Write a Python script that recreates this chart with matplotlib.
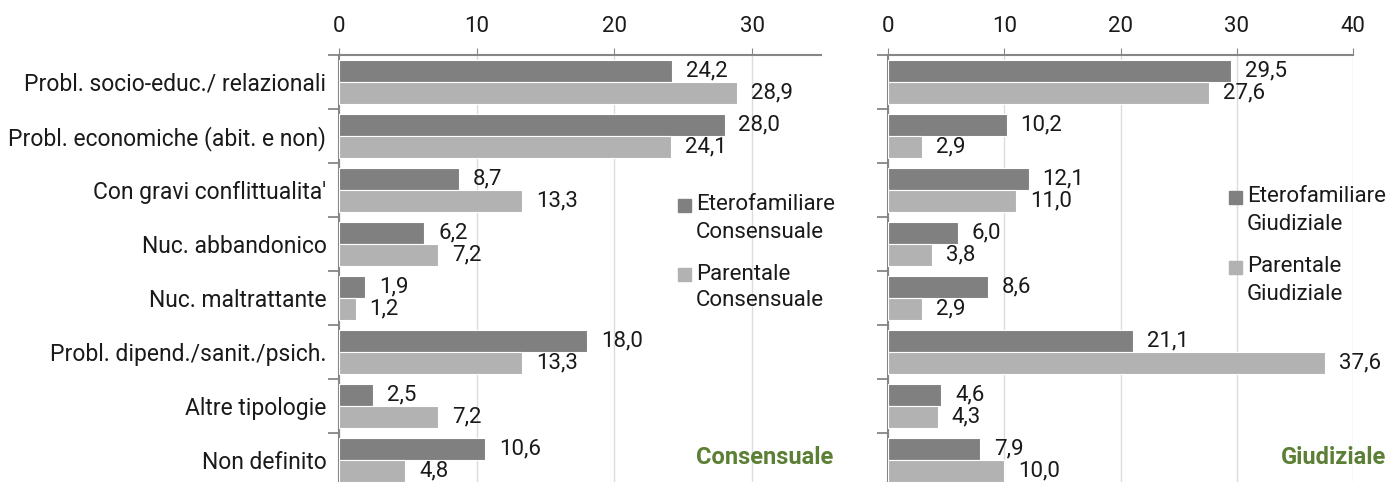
import matplotlib
matplotlib.use("Agg")
import matplotlib.pyplot as plt
import numpy as np
from matplotlib.patches import Rectangle

plt.rcParams['font.family'] = ['Roboto', 'DejaVu Sans']

categories = ["Probl. socio-educ./ relazionali", "Probl. economiche (abit. e non)",
              "Con gravi conflittualita'", "Nuc. abbandonico", "Nuc. maltrattante",
              "Probl. dipend./sanit./psich.", "Altre tipologie", "Non definito"]

etero_cons = [24.2, 28.0, 8.7, 6.2, 1.9, 18.0, 2.5, 10.6]
parent_cons = [28.9, 24.1, 13.3, 7.2, 1.2, 13.3, 7.2, 4.8]
etero_giud = [29.5, 10.2, 12.1, 6.0, 8.6, 21.1, 4.6, 7.9]
parent_giud = [27.6, 2.9, 11.0, 3.8, 2.9, 37.6, 4.3, 10.0]

dark = "#808080"
light = "#b2b2b2"
green = "#5b7f35"
axcol = "#868686"
txtcol = "#1a1a1a"
fs = 16

W, H = 1389, 482
fig = plt.figure(figsize=(13.89, 4.82), dpi=100)
ax1 = fig.add_axes([339/W, -0.011, (821-339)/W, 0.897])
ax2 = fig.add_axes([888/W, -0.011, (1353-888)/W, 0.897])


def draw(ax, v1, v2, xmax, show_labels):
    y = np.arange(len(categories))
    h = 0.41
    b1 = ax.barh(y - h/2, v1, height=h, color=dark, edgecolor="white", linewidth=0.8, zorder=3)
    b2 = ax.barh(y + h/2, v2, height=h, color=light, edgecolor="white", linewidth=0.8, zorder=3)
    for bars, vals in ((b1, v1), (b2, v2)):
        for bar, v in zip(bars, vals):
            ax.annotate(f"{v:.1f}".replace(".", ","),
                        (v, bar.get_y() + bar.get_height()/2),
                        xytext=(10, 0), textcoords="offset points",
                        va="center", ha="left", fontsize=fs, color=txtcol)
    ax.set_xlim(0, xmax)
    ax.set_ylim(len(categories) - 0.5, -0.5)
    ax.set_xticks(np.arange(0, xmax + 0.1, 10))
    ax.xaxis.tick_top()
    ax.tick_params(axis="x", direction="out", length=5, color=axcol,
                   labelsize=fs, labelcolor=txtcol, pad=8)
    ax.grid(axis="x", color="#dcdcdc", linewidth=1, zorder=0)
    ax.set_yticks(y)
    if show_labels:
        ax.set_yticklabels(categories, fontsize=16.5, color=txtcol)
    else:
        ax.set_yticklabels([])
    ax.tick_params(axis="y", length=0, pad=9)
    ax.set_yticks(np.arange(-0.5, len(categories)), minor=True)
    ax.tick_params(axis="y", which="minor", direction="out", length=8, color=axcol, width=1.3)
    for s in ("right", "bottom"):
        ax.spines[s].set_visible(False)
    for s in ("top", "left"):
        ax.spines[s].set_color(axcol)
        ax.spines[s].set_linewidth(1.5)
    ax.set_axisbelow(True)


draw(ax1, etero_cons, parent_cons, 35, True)
draw(ax2, etero_giud, parent_giud, 40, False)


def legend(x_sq, x_txt, entries):
    # entries: (color, [(text, y_center), ...])
    for color, lines in entries:
        yc = lines[0][1]
        fig.patches.append(Rectangle((x_sq/W, 1 - (yc + 7)/H), 13/W, 13/H,
                                     transform=fig.transFigure, color=color))
        for t, yy in lines:
            fig.text(x_txt/W, 1 - yy/H, t, fontsize=fs, color=txtcol,
                     ha="left", va="center")


legend(678, 696, [(dark, [("Eterofamiliare", 205), ("Consensuale", 232)]),
                  (light, [("Parentale", 274), ("Consensuale", 301)])])
legend(1229, 1247, [(dark, [("Eterofamiliare", 197), ("Giudiziale", 225)]),
                    (light, [("Parentale", 267), ("Giudiziale", 295)])])

fig.text(833/W, 1 - 457/H, "Consensuale", color=green, fontsize=17,
         fontweight="bold", ha="right", va="center")
fig.text(1386/W, 1 - 457/H, "Giudiziale", color=green, fontsize=17,
         fontweight="bold", ha="right", va="center")

fig.savefig("out.png", dpi=100)
